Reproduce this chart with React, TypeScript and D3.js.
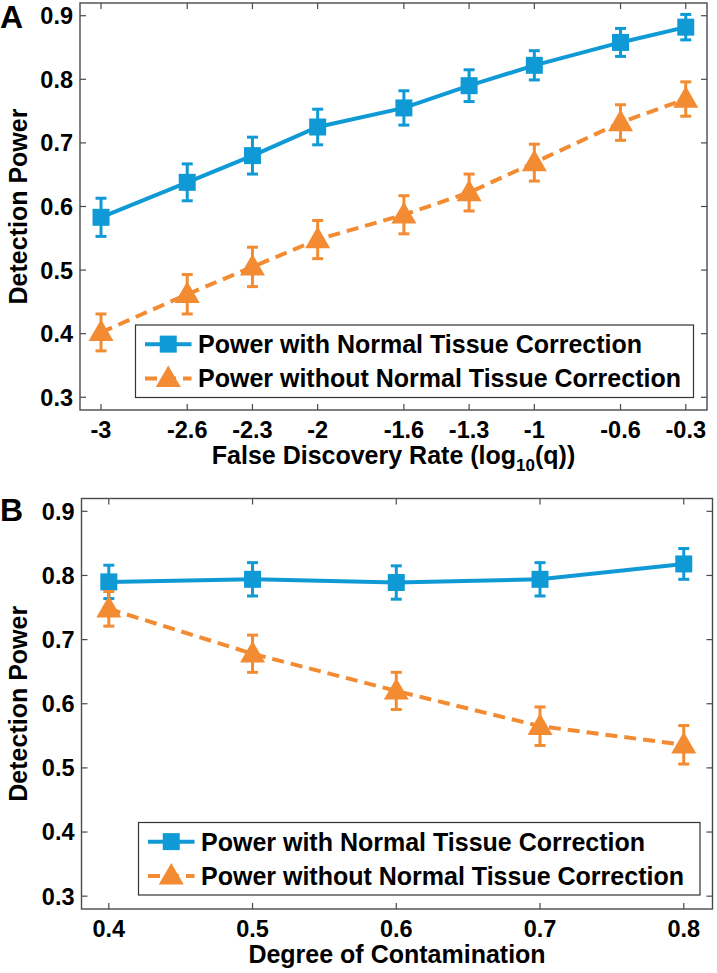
import React from "react";
import * as d3 from "d3";

// ---------- Data ----------
// Panel A: false discovery rate thresholds (q), plotted as log10(q)
const qValues = [0.001, 0.0025, 0.005, 0.01, 0.025, 0.05, 0.1, 0.25, 0.5];
const fdrTickLabels = ["-3", "-2.6", "-2.3", "-2", "-1.6", "-1.3", "-1", "-0.6", "-0.3"];
const powerWithA = [0.583, 0.638, 0.68, 0.725, 0.755, 0.79, 0.822, 0.858, 0.882];
const errWithA = [0.03, 0.029, 0.029, 0.028, 0.027, 0.025, 0.023, 0.022, 0.02];
const powerWithoutA = [0.402, 0.462, 0.505, 0.548, 0.587, 0.622, 0.669, 0.732, 0.769];
const errWithoutA = [0.029, 0.031, 0.031, 0.03, 0.03, 0.029, 0.029, 0.028, 0.027];

// Panel B: degree of contamination
const contamination = [0.4, 0.5, 0.6, 0.7, 0.8];
const contaminationTickLabels = ["0.4", "0.5", "0.6", "0.7", "0.8"];
const powerWithB = [0.79, 0.794, 0.789, 0.794, 0.818];
const errWithB = [0.026, 0.026, 0.026, 0.026, 0.024];
const powerWithoutB = [0.748, 0.678, 0.62, 0.565, 0.536];
const errWithoutB = [0.027, 0.029, 0.029, 0.03, 0.03];

const yTickValues = [0.3, 0.4, 0.5, 0.6, 0.7, 0.8, 0.9];
const yTickLabels = ["0.3", "0.4", "0.5", "0.6", "0.7", "0.8", "0.9"];
const legendLabels = [
  "Power with Normal Tissue Correction",
  "Power without Normal Tissue Correction",
];

// ---------- Styles ----------
const FONT = "'Liberation Sans', Arial, Helvetica, sans-serif";
const BLUE = "#0f9ad6";
const ORANGE = "#f28b32";
const AXIS = "#4a4a4a";
const TRI = "M0,-13L12.5,8.7L-12.5,8.7Z";

type Series = { xs: number[]; ys: number[]; errs: number[] };

function ErrorSeries({
  s, x, y, color, dashed, marker,
}: {
  s: Series; x: d3.ScaleLinear<number, number>; y: d3.ScaleLinear<number, number>;
  color: string; dashed: boolean; marker: "square" | "triangle";
}) {
  const pts = s.xs.map((xv, i) => [x(xv), y(s.ys[i])] as [number, number]);
  const line = d3.line()(pts) || "";
  return (
    <g>
      <path d={line} fill="none" stroke={color} strokeWidth={4}
        strokeDasharray={dashed ? "12,7" : undefined} />
      {s.xs.map((xv, i) => {
        const cx = x(xv);
        const y0 = y(s.ys[i] - s.errs[i]);
        const y1 = y(s.ys[i] + s.errs[i]);
        return (
          <g key={"e" + i} stroke={color} strokeWidth={3}>
            <line x1={cx} x2={cx} y1={y0} y2={y1} />
            <line x1={cx - 5.5} x2={cx + 5.5} y1={y0} y2={y0} />
            <line x1={cx - 5.5} x2={cx + 5.5} y1={y1} y2={y1} />
          </g>
        );
      })}
      {pts.map(([px, py], i) =>
        marker === "square" ? (
          <rect key={"m" + i} x={px - 8.5} y={py - 8.5} width={17} height={17} fill={color} />
        ) : (
          <path key={"m" + i} d={TRI} transform={`translate(${px},${py})`} fill={color} />
        )
      )}
    </g>
  );
}

function Panel({
  letter, letterY, left, right, top, bottom, xDomain, xTicks, xTickLabels,
  blue, orange, xLabel, legendBox,
}: {
  letter: string; letterY: number; left: number; right: number; top: number; bottom: number;
  xDomain: [number, number]; xTicks: number[]; xTickLabels: string[];
  blue: Series; orange: Series; xLabel: React.ReactNode;
  legendBox: { x0: number; x1: number; y0: number; y1: number };
}) {
  const x = d3.scaleLinear().domain(xDomain).range([left, right]);
  const y = d3.scaleLinear().domain([0.28, 0.92]).range([bottom, top]);
  const tl = 6;
  const midY = (top + bottom) / 2;
  const midX = (left + right) / 2;
  const lb = legendBox;
  const rowH = (lb.y1 - lb.y0) / 2;
  return (
    <g fontFamily={FONT} fontWeight="bold" fill="#000">
      <text x={0} y={letterY} fontSize={32}>{letter}</text>
      {/* ticks */}
      <g stroke={AXIS} strokeWidth={1.2}>
        {yTickValues.map((v, i) => (
          <g key={"yt" + i}>
            <line x1={left} x2={left + tl} y1={y(v)} y2={y(v)} />
            <line x1={right} x2={right - tl} y1={y(v)} y2={y(v)} />
          </g>
        ))}
        {xTicks.map((v, i) => (
          <g key={"xt" + i}>
            <line x1={x(v)} x2={x(v)} y1={bottom} y2={bottom - tl} />
            <line x1={x(v)} x2={x(v)} y1={top} y2={top + tl} />
          </g>
        ))}
      </g>
      <rect x={left} y={top} width={right - left} height={bottom - top}
        fill="none" stroke={AXIS} strokeWidth={1.4} />
      {/* tick labels */}
      {yTickValues.map((v, i) => (
        <text key={"yl" + i} x={left - 7} y={y(v)} dy="0.36em" textAnchor="end" fontSize={23.5}>
          {yTickLabels[i]}
        </text>
      ))}
      {xTicks.map((v, i) => (
        <text key={"xl" + i} x={x(v)} y={bottom + 27.5} textAnchor="middle" fontSize={23.5}>
          {xTickLabels[i]}
        </text>
      ))}
      {/* axis labels */}
      <text transform={`translate(27,${midY}) rotate(-90)`} textAnchor="middle" fontSize={25}>
        Detection Power
      </text>
      <text x={midX} y={bottom + 53.5} textAnchor="middle" fontSize={25}>{xLabel}</text>
      {/* data */}
      <ErrorSeries s={blue} x={x} y={y} color={BLUE} dashed={false} marker="square" />
      <ErrorSeries s={orange} x={x} y={y} color={ORANGE} dashed={true} marker="triangle" />
      {/* legend */}
      <rect x={lb.x0} y={lb.y0} width={lb.x1 - lb.x0} height={lb.y1 - lb.y0}
        fill="#fff" stroke="#333" strokeWidth={1.2} />
      {legendLabels.map((lab, i) => {
        const cy = lb.y0 + rowH * (i + 0.5) + (i === 0 ? 1 : -1);
        const lx0 = lb.x0 + 9.5;
        const lx1 = lb.x0 + 56;
        const mx = (lx0 + lx1) / 2;
        const color = i === 0 ? BLUE : ORANGE;
        return (
          <g key={"lg" + i}>
            <line x1={lx0} x2={lx1} y1={cy} y2={cy} stroke={color} strokeWidth={4}
              strokeDasharray={i === 1 ? "12,7" : undefined} />
            {i === 0 ? (
              <rect x={mx - 8.5} y={cy - 8.5} width={17} height={17} fill={color} />
            ) : (
              <path d={TRI} transform={`translate(${mx},${cy})`} fill={color} />
            )}
            <text x={lb.x0 + 62.5} y={cy} dy="0.36em" fontSize={25}>{lab}</text>
          </g>
        );
      })}
    </g>
  );
}

export default function App() {
  const blueA: Series = { xs: qValues.map((q) => Math.log10(q)), ys: powerWithA, errs: errWithA };
  const orangeA: Series = { xs: qValues.map((q) => Math.log10(q)), ys: powerWithoutA, errs: errWithoutA };
  const blueB: Series = { xs: contamination, ys: powerWithB, errs: errWithB };
  const orangeB: Series = { xs: contamination, ys: powerWithoutB, errs: errWithoutB };
  return (
    <svg width={717} height={973} viewBox="0 0 717 973"
      style={{ position: "absolute", left: 0, top: 0, background: "#fff" }}>
      <rect width={717} height={973} fill="#fff" />
      <Panel
        letter="A" letterY={28}
        left={80} right={707} top={3} bottom={410}
        xDomain={[-3.097, -0.203]}
        xTicks={qValues.map((q) => Math.log10(q))}
        xTickLabels={fdrTickLabels}
        blue={blueA} orange={orangeA}
        xLabel={
          <>
            <tspan>False Discovery Rate (log</tspan>
            <tspan fontSize={17} dy={7}>10</tspan>
            <tspan dy={-7}>(q))</tspan>
          </>
        }
        legendBox={{ x0: 135.5, x1: 693.5, y0: 325, y1: 397.5 }}
      />
      <Panel
        letter="B" letterY={521}
        left={81.5} right={712.5} top={498.5} bottom={909}
        xDomain={[0.381, 0.82]}
        xTicks={contamination}
        xTickLabels={contaminationTickLabels}
        blue={blueB} orange={orangeB}
        xLabel={<tspan>Degree of Contamination</tspan>}
        legendBox={{ x0: 138.5, x1: 700, y0: 822.5, y1: 895 }}
      />
    </svg>
  );
}
